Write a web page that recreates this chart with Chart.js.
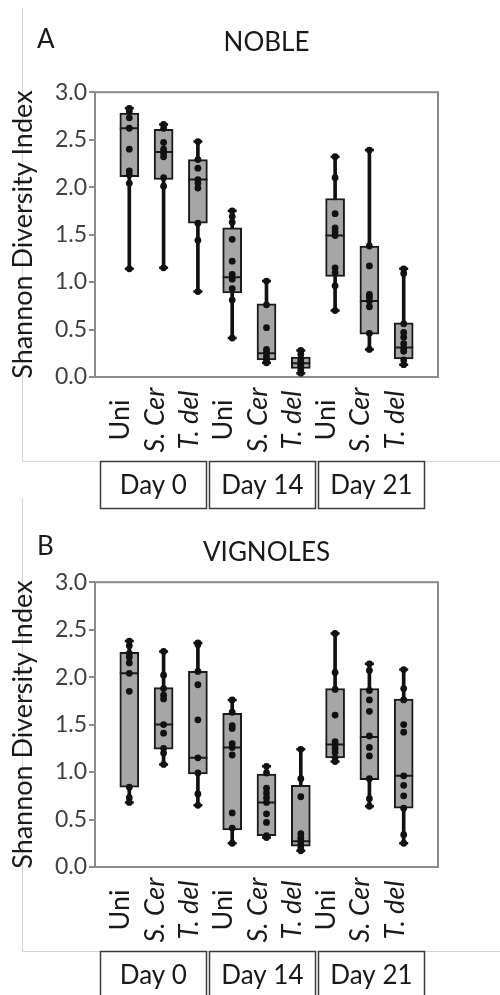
<!DOCTYPE html>
<html>
<head>
<meta charset="utf-8">
<title>Shannon Diversity Index</title>
<script src="https://cdn.jsdelivr.net/npm/chart.js@4.4.1/dist/chart.umd.min.js"></script>
<style>
  body { margin: 0; background: #fff; }
  #wrap { position: relative; width: 500px; height: 995px; overflow: hidden; }
  .panel { position: absolute; left: 0; width: 500px; }
  #panelA { top: 0; height: 510px; }
  #panelB { top: 490px; height: 505px; }
</style>
</head>
<body>
<div id="wrap">
  <div class="panel" id="panelA"><canvas id="nobleChart" width="500" height="510"></canvas></div>
  <div class="panel" id="panelB"><canvas id="vignolesChart" width="500" height="505"></canvas></div>
</div>
<script>
//Groups along the x axis, three treatments per sampling day
var groupLabels = ["Uni", "S. Cer", "T. del", "Uni", "S. Cer", "T. del", "Uni", "S. Cer", "T. del"];
var dayLabels = ["Day 0", "Day 14", "Day 21"];
var yTicks = [0, 0.5, 1, 1.5, 2, 2.5, 3];

//NOBLE - individual samples per group
var noblePoints = [
  [2.83, 2.80, 2.73, 2.62, 2.40, 2.17, 2.13, 2.04, 1.14],
  [2.66, 2.62, 2.47, 2.40, 2.36, 2.32, 2.10, 2.01, 1.15],
  [2.48, 2.29, 2.20, 2.08, 2.04, 1.99, 1.62, 1.44, 0.90],
  [1.75, 1.69, 1.63, 1.45, 1.22, 1.08, 1.03, 0.93, 0.81, 0.41],
  [1.01, 0.76, 0.52, 0.29, 0.26, 0.22, 0.19, 0.16, 0.15],
  [0.28, 0.24, 0.19, 0.16, 0.14, 0.13, 0.10, 0.07, 0.04],
  [2.32, 2.10, 1.72, 1.57, 1.53, 1.49, 1.15, 1.10, 0.96, 0.70],
  [2.39, 1.38, 1.17, 0.87, 0.84, 0.80, 0.74, 0.46, 0.29],
  [1.14, 1.09, 0.56, 0.47, 0.42, 0.35, 0.30, 0.27, 0.18, 0.13]
];
var nobleQ1 = [2.11, 2.08, 1.62, 0.885, 0.18, 0.09, 1.06, 0.45, 0.19];
var nobleMedian = [2.62, 2.37, 2.08, 1.05, 0.25, 0.145, 1.49, 0.80, 0.31];
var nobleQ3 = [2.78, 2.61, 2.29, 1.57, 0.77, 0.21, 1.88, 1.38, 0.57];

//VIGNOLES - individual samples per group
var vignolesPoints = [
  [2.38, 2.33, 2.25, 2.21, 2.15, 2.04, 1.85, 0.84, 0.73, 0.68],
  [2.27, 2.02, 1.88, 1.81, 1.77, 1.50, 1.41, 1.25, 1.20, 1.08],
  [2.36, 2.34, 2.06, 1.92, 1.55, 1.15, 0.99, 0.77, 0.65],
  [1.76, 1.63, 1.49, 1.46, 1.30, 1.26, 1.18, 0.57, 0.41, 0.25],
  [1.06, 0.99, 0.83, 0.78, 0.73, 0.68, 0.56, 0.47, 0.33, 0.31],
  [1.24, 0.93, 0.74, 0.35, 0.31, 0.28, 0.24, 0.20, 0.17],
  [2.46, 2.05, 1.87, 1.60, 1.32, 1.29, 1.25, 1.21, 1.15, 1.11],
  [2.14, 2.07, 1.86, 1.76, 1.64, 1.38, 1.26, 1.17, 0.93, 0.72, 0.64],
  [2.08, 1.88, 1.76, 1.50, 1.42, 0.96, 0.86, 0.75, 0.62, 0.34, 0.25]
];
var vignolesQ1 = [0.84, 1.24, 0.98, 0.39, 0.33, 0.22, 1.15, 0.92, 0.62];
var vignolesMedian = [2.04, 1.50, 1.15, 1.26, 0.68, 0.27, 1.29, 1.37, 0.96];
var vignolesQ3 = [2.26, 1.89, 2.06, 1.62, 0.98, 0.86, 1.88, 1.88, 1.77];

var FONT = "Lato";
var TEXT = "#1a1a1a";

//Turns the per-group arrays into bar/scatter datasets (whisker, box, median, caps, dots)
function boxDatasets(points, q1, median, q3) {
  var whiskers = [], boxes = [], medians = [], caps = [], dots = [];
  points.forEach(function (vals, i) {
    var x = i + 1;
    var lo = Math.min.apply(null, vals);
    var hi = Math.max.apply(null, vals);
    whiskers.push({ x: x, y: [lo, hi] });
    boxes.push({ x: x, y: [q1[i], q3[i]] });
    medians.push({ x: x, y: median[i] });
    caps.push({ x: x, y: lo }, { x: x, y: hi });
    vals.forEach(function (v) { dots.push({ x: x, y: v }); });
  });
  return [
    {
      type: "bar", data: whiskers, order: 4, grouped: false,
      barThickness: 3, backgroundColor: "#111"
    },
    {
      type: "bar", data: boxes, order: 3, grouped: false,
      barThickness: 19, backgroundColor: "#a6a6a6",
      borderColor: "#1a1a1a", borderWidth: 2, borderSkipped: false
    },
    {
      type: "scatter", data: medians, order: 2,
      pointStyle: "line", radius: 9.5, borderWidth: 2, borderColor: "#1a1a1a"
    },
    {
      type: "scatter", data: caps, order: 1,
      pointStyle: "line", radius: 4.5, borderWidth: 2.5, borderColor: "#111"
    },
    {
      type: "scatter", data: dots, order: 0,
      pointStyle: "circle", radius: 3.4, borderWidth: 0, backgroundColor: "#111"
    }
  ];
}

//Panel letter, outer frame, plot border, rotated group names and day boxes
var panelDecor = {
  id: "panelDecor",
  beforeDraw: function (chart, args, opts) {
    var ctx = chart.ctx;
    ctx.save();
    ctx.strokeStyle = "#d4d4d4";
    ctx.lineWidth = 1;
    ctx.beginPath();
    ctx.moveTo(22.5, 8);
    ctx.lineTo(22.5, 461.5);
    ctx.lineTo(500, 461.5);
    ctx.stroke();
    ctx.restore();
  },
  beforeDatasetsDraw: function (chart) {
    var a = chart.chartArea;
    var ctx = chart.ctx;
    ctx.save();
    ctx.strokeStyle = "#8c8c8c";
    ctx.lineWidth = 2;
    ctx.strokeRect(a.left, a.top, a.right - a.left, a.bottom - a.top);
    ctx.restore();
  },
  afterDraw: function (chart, args, opts) {
    var ctx = chart.ctx;
    var xs = chart.scales.x;
    ctx.save();
    ctx.fillStyle = TEXT;

    //panel letter
    ctx.font = "26px " + FONT;
    ctx.textAlign = "left";
    ctx.textBaseline = "alphabetic";
    ctx.fillText(opts.letter, 37, opts.letterY);

    //treatment names, rotated
    groupLabels.forEach(function (lab, i) {
      var x = xs.getPixelForValue(i + 1);
      ctx.save();
      ctx.translate(x, 420);
      ctx.rotate(-Math.PI / 2);
      ctx.textAlign = "center";
      ctx.textBaseline = "alphabetic";
      ctx.font = (lab === "Uni" ? "" : "italic ") + "27px " + FONT;
      ctx.fillText(lab, 0, 0);
      ctx.restore();
    });

    //day boxes under the groups
    ctx.strokeStyle = "#3c3c3c";
    ctx.lineWidth = 1.5;
    ctx.font = "26px " + FONT;
    ctx.textAlign = "center";
    dayLabels.forEach(function (lab, i) {
      var x0 = xs.getPixelForValue(0.15 + i * 3.18);
      var x1 = xs.getPixelForValue(0.15 + i * 3.18 + 3.1);
      ctx.strokeRect(Math.round(x0) + 0.5, 461.5, Math.round(x1 - x0), 47);
      ctx.fillText(lab, (x0 + x1) / 2, 494);
    });
    ctx.restore();
  }
};

function makeChart(canvasId, title, letter, letterY, titlePad, points, q1, median, q3) {
  var ctx = document.getElementById(canvasId).getContext("2d");
  var xAxisHeight = ctx.canvas.height - 377;
  return new Chart(ctx, {
    type: "bar",
    data: { datasets: boxDatasets(points, q1, median, q3) },
    options: {
      responsive: false,
      animation: false,
      layout: { padding: { left: 0, right: 62, top: 0, bottom: 0 } },
      plugins: {
        legend: { display: false },
        tooltip: { enabled: false },
        title: {
          display: true,
          fullSize: false,
          text: title,
          color: TEXT,
          font: { family: FONT, size: 26, weight: "normal" },
          padding: titlePad
        },
        panelDecor: { letter: letter, letterY: letterY }
      },
      scales: {
        x: {
          type: "linear",
          min: 0,
          max: 10,
          offset: false,
          ticks: { display: false },
          grid: { display: false },
          border: { display: false },
          afterFit: function (s) { s.height = xAxisHeight; }
        },
        y: {
          min: 0,
          max: 3,
          afterBuildTicks: function (s) {
            s.ticks = yTicks.map(function (v) { return { value: v }; });
          },
          ticks: {
            color: "#404040",
            font: { family: FONT, size: 23 },
            padding: 2,
            callback: function (v) { return v.toFixed(1); }
          },
          grid: { drawOnChartArea: false, tickLength: 6, color: "#8c8c8c", lineWidth: 2 },
          border: { display: false },
          title: {
            display: true,
            text: "Shannon Diversity Index",
            color: TEXT,
            font: { family: FONT, size: 27 },
            padding: { top: 7, bottom: 0 }
          },
          afterFit: function (s) { s.width = 95; }
        }
      }
    },
    plugins: [panelDecor]
  });
}

var nobleChart = makeChart("nobleChart", "NOBLE", "A", 48, { top: 27, bottom: 34 },
  noblePoints, nobleQ1, nobleMedian, nobleQ3);
var vignolesChart = makeChart("vignolesChart", "VIGNOLES", "B", 65, { top: 47, bottom: 14 },
  vignolesPoints, vignolesQ1, vignolesMedian, vignolesQ3);
</script>
</body>
</html>
